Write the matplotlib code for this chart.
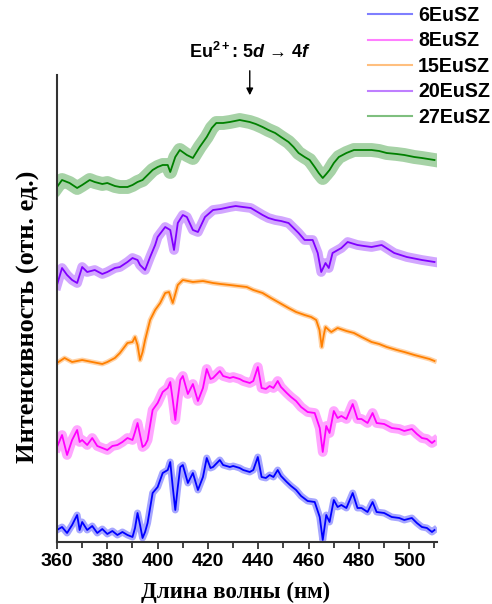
import matplotlib
matplotlib.use("Agg")
import matplotlib.pyplot as plt
from matplotlib.ticker import MultipleLocator
from matplotlib.lines import Line2D

# Спектры люминесценции (отн. ед., со сдвигом по вертикали)
wl_6 = [360, 362, 364, 366, 368, 369, 370, 372, 374, 376, 378, 380, 382, 384, 386, 388, 390, 391, 392, 393,
        394, 395, 396, 398, 400, 402, 404, 405, 406, 407, 408, 409, 410, 412, 414, 416, 418, 419.5, 421, 422,
        424.7, 426, 428.7, 430, 432.6, 434, 436.6, 438, 439.8, 441.3, 443, 444.5, 446, 447.7, 449, 451.3, 453,
        455, 457, 459.6, 462.4, 464.4, 465.6, 467, 468.3, 470, 471.5, 473, 475, 477.5, 479.4, 481, 483.4,
        485.4, 487, 490, 493, 496, 498, 501, 503, 505, 507, 509, 510]
i_6 = [12, 15, 9, 17, 27, 12, 20, 12, 16, 9, 13, 8, 11, 7, 10, 7, 5, 14, 29, 17,
       4, 10, 19, 49, 55, 69, 72, 80, 55, 32, 55, 75, 77, 59, 69, 52, 65, 84, 74, 75,
       82, 77, 75, 76, 74, 72, 70, 72, 85, 65, 64, 67, 65, 72, 66, 60, 56,
       52, 46, 41, 40, 25, 2, 27, 20, 42, 35, 37, 34, 49, 34, 34, 30,
       40, 30, 29, 25, 24, 22, 24, 19, 15, 14, 10, 12]

wl_8 = wl_6
i_8 = [95, 107, 87, 102, 112, 100, 102, 97, 104, 96, 94, 92, 96, 97, 100, 104, 102, 110, 119, 107,
       95, 97, 102, 132, 139, 150, 154, 160, 142, 122, 144, 162, 166, 148, 158, 141, 154, 173, 163, 164,
       171, 166, 164, 165, 163, 161, 159, 161, 175, 154, 153, 156, 154, 161, 155, 149, 145,
       141, 135, 130, 129, 114, 90, 116, 109, 131, 124, 126, 123, 138, 123, 123, 119,
       129, 119, 118, 114, 113, 111, 113, 108, 104, 103, 99, 101]

wl_15 = [360, 363, 366, 370, 374, 378, 380, 383, 385, 388, 390, 391, 392, 393, 394, 395, 397, 399, 401, 403,
         404.5, 406, 408, 410, 414, 418, 422, 425, 428.7, 432, 435.4, 438, 441.7, 445, 448.5, 452, 455,
         458.4, 461, 463, 464.3, 465.2, 466, 466.7, 468, 469, 471.5, 475, 478, 481, 485, 488, 491, 495,
         498, 502, 505, 508, 510]
i_15 = [179, 184, 180, 182, 180, 178, 180, 184, 189, 199, 200, 205, 197, 182, 190, 202, 222, 232, 239, 249,
        250, 239, 257, 262, 260, 261, 259, 258, 257, 256, 255, 252, 249, 244, 239, 234, 230,
        227, 225, 222, 212, 195, 207, 215, 212, 210, 214, 211, 209, 205, 200, 198, 195, 192,
        190, 187, 185, 183, 181]

wl_20 = [360, 362, 364, 366, 368, 370, 372, 375, 378, 380, 383, 385, 388, 390, 392, 393, 395, 397, 399, 400,
         403, 405, 406.5, 408, 410, 411.6, 414, 416, 418.8, 422, 425, 428.7, 431, 433.9, 437, 441.7, 444,
         446.7, 449, 452, 456, 458.4, 461.6, 463.6, 465, 466.7, 468, 469.5, 473, 475.5, 479.4, 482, 485,
         489, 494, 499, 505, 510]
i_20 = [257, 274, 267, 262, 259, 275, 270, 272, 268, 270, 274, 275, 280, 284, 282, 277, 272, 285, 297, 305,
        315, 312, 292, 319, 327, 325, 312, 310, 325, 332, 333, 335, 336, 335, 334, 327, 324,
        322, 321, 319, 309, 302, 302, 289, 270, 279, 274, 289, 294, 300, 297, 296, 295,
        297, 289, 285, 282, 280]

wl_27 = [360, 362, 365, 368, 370, 373, 375, 378, 380, 383, 385, 388, 390, 392, 394, 396, 398, 400, 402, 404,
         405, 407, 408.8, 411.6, 414, 416.7, 419.5, 421.5, 423.3, 426, 428.7, 432.6, 436.6, 439, 441.7, 444,
         446.7, 449, 452, 454, 456, 458.4, 460.4, 462.4, 464, 465.6, 467, 468.3, 470, 472, 475, 478, 481,
         485, 488, 491, 495, 498, 502, 505, 510]
i_27 = [355, 362, 359, 354, 357, 362, 360, 358, 359, 356, 355, 355, 357, 360, 362, 367, 372, 375, 377, 377,
        370, 385, 392, 387, 384, 395, 405, 414, 419, 419, 420, 422, 420, 418, 415, 412,
        409, 405, 400, 395, 389, 385, 382, 375, 369, 364, 368, 372, 379, 385, 389, 392, 392,
        392, 391, 389, 388, 387, 385, 384, 382]

names = ["6EuSZ", "8EuSZ", "15EuSZ", "20EuSZ", "27EuSZ"]
colors = ["#0000ff", "#ff00ff", "#ff8000", "#8000ff", "#008000"]
spectra = [(wl_6, i_6), (wl_8, i_8), (wl_15, i_15), (wl_20, i_20), (wl_27, i_27)]
noise = [5, 7, 3.5, 7, 10]  # ширина шумовой полосы, pt

plt.rcParams["mathtext.fontset"] = "custom"
plt.rcParams["mathtext.rm"] = "Liberation Sans:bold"
plt.rcParams["mathtext.it"] = "Liberation Sans:italic:bold"
plt.rcParams["mathtext.bf"] = "Liberation Sans:bold"

fig = plt.figure(figsize=(4.92, 6.04), dpi=100)
ax = fig.add_axes([57 / 492, 62 / 604, 380 / 492, 467 / 604])

for (x, y), c, w in zip(spectra, colors, noise):
    ax.plot(x, y, color=c, lw=w, alpha=0.35, solid_joinstyle="round")
    ax.plot(x, y, color=c, lw=1.3)

ax.set_xlim(360, 511)
ax.set_ylim(0, 467)
ax.xaxis.set_major_locator(MultipleLocator(20))
ax.xaxis.set_minor_locator(MultipleLocator(10))
ax.set_yticks([])
for s in ["top", "right"]:
    ax.spines[s].set_visible(False)
for s in ["left", "bottom"]:
    ax.spines[s].set_color("#333333")
    ax.spines[s].set_linewidth(1.5)
ax.tick_params(axis="x", which="major", direction="out", length=5, width=1.3, color="#333333", pad=3)
ax.tick_params(axis="x", which="minor", direction="out", length=4, width=1.3, color="#333333")
for lab in ax.get_xticklabels():
    lab.set_fontfamily("Liberation Sans")
    lab.set_fontweight("bold")
    lab.set_fontsize(14)

fig.text(236 / 492, 1 - 592 / 604, "Длина волны (нм)", ha="center", va="center",
         family="Liberation Serif", weight="bold", fontsize=16.5)
fig.text(28 / 492, 1 - 317 / 604, "Интенсивность (отн. ед.)", ha="center", va="center",
         rotation=90, family="Liberation Serif", weight="bold", fontsize=19)

# подпись перехода и стрелка
ax.text(436.6, 542 - 52, r"Eu$^{2+}$: $\mathit{5d}$ → $\mathit{4f}$", ha="center", va="center",
        family="Liberation Sans", weight="bold", fontsize=13, clip_on=False)
ax.annotate("", xy=(436.6, 542 - 98), xytext=(436.6, 542 - 68), annotation_clip=False,
            arrowprops=dict(arrowstyle="-|>", color="k", lw=1, mutation_scale=10))

handles = [Line2D([], [], color=c, lw=1.5, alpha=0.5) for c in colors]
fig.legend(handles, names, loc="upper left", bbox_to_anchor=(368 / 492, 1 - 6 / 604),
           frameon=False, handlelength=2.25, handletextpad=0.3, borderpad=0, borderaxespad=0,
           labelspacing=0.33, prop={"family": "Liberation Sans", "weight": "bold", "size": 14.1})

fig.savefig("out.png", dpi=100)
